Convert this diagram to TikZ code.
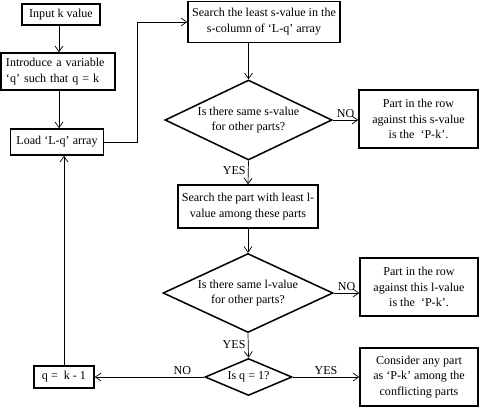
\documentclass[tikz,border=0pt]{standalone}
\usepackage{fontspec}
\setmainfont{Liberation Serif}
\usetikzlibrary{arrows.meta,shapes.geometric}
\tikzset{
  box/.style   = {rectangle, draw=black, line width=1.3pt,
                  align=center, font=\fontsize{10.3}{13.5}\selectfont, inner sep=2pt},
  dec/.style   = {diamond, draw=black, line width=1.3pt, aspect=2,
                  align=center, font=\fontsize{10.3}{13.5}\selectfont, inner sep=0pt},
  lbl/.style   = {font=\fontsize{10.3}{12}\selectfont, inner sep=2pt},
  ar/.style    = {-{Straight Barb[length=1.7mm,width=2.4mm]}, draw=black, line width=0.6pt}
}
\begin{document}
\begin{tikzpicture}[x=0.03cm, y=-0.03cm]
    \useasboundingbox (0,0) rectangle (479,407);
    \node[box, minimum width=2.34cm, minimum height=0.63cm] (inp) at (61,14.5) {Input k value};
    \node[box, text width=3.12cm, align=left, inner xsep=0.15cm, minimum height=1.11cm] (intro) at (58,71.5)
      {Introduce a variable\\`q' such that q = k};
    \node[box, minimum width=2.79cm, minimum height=0.78cm] (load) at (57,142) {Load `L-q' array};
    \node[box, minimum width=4.56cm, minimum height=1.23cm] (srch1) at (264,22)
      {Search the least s-value in the\\s-column of `L-q' array};
    \node[dec, minimum width=5.01cm, minimum height=2.4cm] (d1) at (248.5,120)
      {Is there same s-value\\for other parts?};
    \node[box, minimum width=3.57cm, minimum height=1.74cm] (pk1) at (418.5,119)
      {Part in the row\\against this s-value\\is the \ `P-k'.};
    \node[box, minimum width=4.2cm, minimum height=1.29cm] (srch2) at (248,206.5)
      {Search the part with least l-\\value among these parts};
    \node[dec, minimum width=5.1cm, minimum height=2.37cm] (d2) at (248,293)
      {Is there same l-value\\for other parts?};
    \node[box, minimum width=3.54cm, minimum height=1.74cm] (pk2) at (419,287)
      {Part in the row\\against this l-value\\is the \ `P-k'.};
    \node[dec, minimum width=2.61cm, minimum height=1.11cm] (d3) at (248.5,377) {Is q = 1?};
    \node[box, minimum width=1.8cm, minimum height=0.66cm] (qk) at (64,377) {q = \ k - 1};
    \node[box, minimum width=3.54cm, minimum height=1.74cm] (pk3) at (419,377)
      {Consider any part\\as `P-k' among the\\conflicting parts};
    \coordinate (bend) at (137,21);
    \draw[ar] (inp.south -| 59,0) -- (59,0 |- intro.north);
    \draw[ar] (intro.south -| 59,0) -- (59,0 |- load.north);
    \draw[ar] (load.east) -| (bend |- srch1.west) -- (srch1.west);
    \draw[ar] (srch1.south -| d1.north) -- (d1.north);
    \draw[ar] (d1.east) -- node[lbl, above] {NO} (d1.east -| pk1.west);
    \draw[ar] (d1.south) -- node[lbl, left, pos=0.4] {YES} (srch2.north);
    \draw[ar] (srch2.south) -- (d2.north);
    \draw[ar] (d2.east) -- node[lbl, above] {NO} (d2.east -| pk2.west);
    \draw[ar] (d2.south) -- node[lbl, left, pos=0.45] {YES} (d3.north);
    \draw[ar] (d3.west) -- node[lbl, above, pos=0.2] {NO} (qk.east);
    \draw[ar] (d3.east) -- node[lbl, above] {YES} (pk3.west);
    \draw[ar] (qk.north) -- (qk.north |- load.south);
  \end{tikzpicture}
\end{document}
